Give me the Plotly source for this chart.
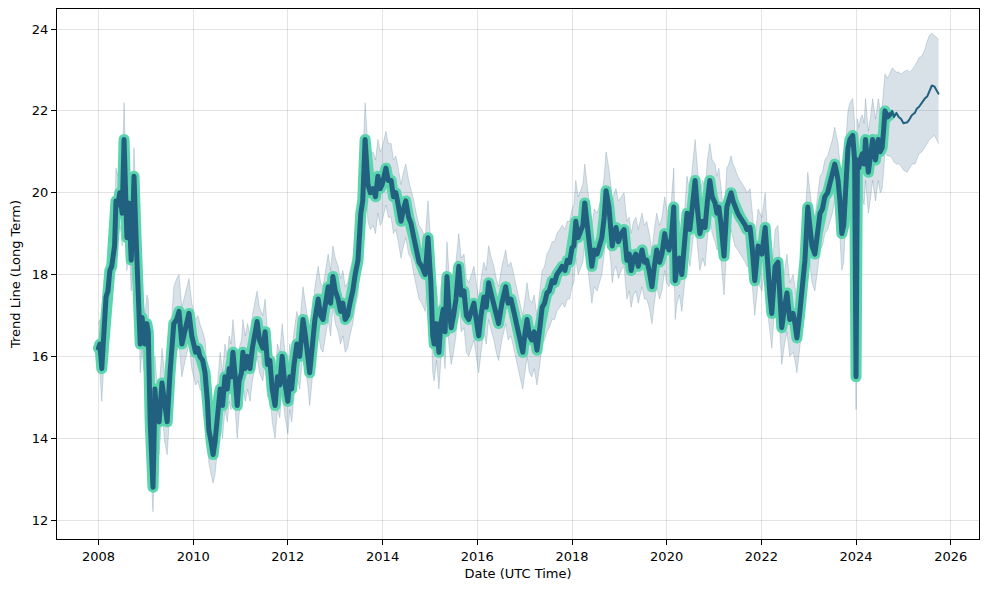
import datetime as dt
import plotly.graph_objects as go

# ---------------- data ----------------
# historical trend (decimal years), value, band upper, band lower
hist_years = [
    2008.00, 2008.03, 2008.07, 2008.12, 2008.16, 2008.20, 2008.24, 2008.28, 2008.31, 2008.34, 2008.37, 2008.41, 2008.45, 2008.48, 2008.50, 2008.54, 2008.57, 2008.60, 2008.64, 2008.69, 2008.72, 2008.75, 2008.79, 2008.83, 2008.86, 2008.88, 2008.92, 2008.95, 2008.98,
    2009.02, 2009.05, 2009.09, 2009.12, 2009.15, 2009.17, 2009.19, 2009.23, 2009.28, 2009.34, 2009.40, 2009.45, 2009.51, 2009.55, 2009.59, 2009.65, 2009.70, 2009.76, 2009.83, 2009.91, 2009.97,
    2010.05, 2010.10, 2010.14, 2010.20, 2010.25, 2010.30, 2010.33, 2010.38, 2010.42, 2010.46, 2010.50, 2010.54, 2010.57, 2010.62, 2010.67, 2010.72, 2010.76, 2010.80, 2010.84, 2010.88, 2010.93, 2010.97,
    2011.02, 2011.05, 2011.10, 2011.15, 2011.20, 2011.25, 2011.30, 2011.35, 2011.40, 2011.47, 2011.52, 2011.57, 2011.62, 2011.67, 2011.73, 2011.78, 2011.83, 2011.88, 2011.93,
    2012.00, 2012.04, 2012.08, 2012.13, 2012.19, 2012.25, 2012.32, 2012.37, 2012.42, 2012.46, 2012.52, 2012.57, 2012.64, 2012.69, 2012.74, 2012.80, 2012.85, 2012.90, 2012.95,
    2013.00, 2013.06, 2013.11, 2013.16, 2013.21, 2013.26, 2013.31, 2013.37, 2013.42, 2013.48, 2013.54, 2013.58, 2013.63, 2013.66, 2013.69, 2013.74, 2013.80, 2013.85, 2013.90, 2013.95, 2013.99,
    2014.03, 2014.07, 2014.12, 2014.18, 2014.23, 2014.28, 2014.33, 2014.39, 2014.44, 2014.49, 2014.55, 2014.60, 2014.66, 2014.71, 2014.77, 2014.83, 2014.90, 2014.96,
    2015.02, 2015.06, 2015.09, 2015.14, 2015.19, 2015.23, 2015.28, 2015.32, 2015.36, 2015.40, 2015.45, 2015.50, 2015.55, 2015.61, 2015.66, 2015.72, 2015.77, 2015.82, 2015.88, 2015.93, 2015.98,
    2016.03, 2016.08, 2016.14, 2016.19, 2016.24, 2016.30, 2016.35, 2016.40, 2016.45, 2016.52, 2016.60, 2016.65, 2016.71, 2016.77, 2016.82, 2016.88, 2016.96,
    2017.01, 2017.05, 2017.10, 2017.15, 2017.20, 2017.26, 2017.32, 2017.37, 2017.42, 2017.47, 2017.52, 2017.58, 2017.63, 2017.68, 2017.74, 2017.79, 2017.85, 2017.90, 2017.95,
    2018.00, 2018.04, 2018.08, 2018.13, 2018.19, 2018.23, 2018.27, 2018.31, 2018.36, 2018.42, 2018.47, 2018.53, 2018.58, 2018.63, 2018.68, 2018.72, 2018.78, 2018.82, 2018.85, 2018.89, 2018.93, 2018.98,
    2019.04, 2019.10, 2019.16, 2019.21, 2019.25, 2019.30, 2019.35, 2019.40, 2019.44, 2019.48, 2019.53, 2019.58, 2019.63, 2019.69, 2019.74, 2019.79, 2019.85, 2019.90, 2019.96,
    2020.00, 2020.05, 2020.10, 2020.15, 2020.18, 2020.22, 2020.27, 2020.32, 2020.38, 2020.43, 2020.49, 2020.55, 2020.60, 2020.65, 2020.70, 2020.76, 2020.81, 2020.86, 2020.91, 2020.96,
    2021.02, 2021.06, 2021.10, 2021.15, 2021.21, 2021.27, 2021.31, 2021.36, 2021.40, 2021.44, 2021.50, 2021.55, 2021.61, 2021.66, 2021.69, 2021.76, 2021.81, 2021.86, 2021.93,
    2022.01, 2022.08, 2022.11, 2022.14, 2022.18, 2022.22, 2022.25, 2022.29, 2022.35, 2022.39, 2022.43, 2022.49, 2022.54, 2022.60, 2022.67, 2022.71, 2022.75, 2022.81, 2022.86, 2022.92, 2022.98,
    2023.03, 2023.07, 2023.13, 2023.18, 2023.24, 2023.29, 2023.34, 2023.40, 2023.45, 2023.50, 2023.55, 2023.59, 2023.62, 2023.66, 2023.70, 2023.74, 2023.78, 2023.83, 2023.87, 2023.93, 2023.97,
    2024.00, 2024.03, 2024.06, 2024.09, 2024.13, 2024.17, 2024.20, 2024.26, 2024.31, 2024.35, 2024.41, 2024.47, 2024.51, 2024.55, 2024.58, 2024.61, 2024.66, 2024.71,
]
hist_trend = [
    16.2, 16.3, 15.7, 16.6, 17.45, 17.6, 18.1, 18.2, 18.6, 18.7, 19.8, 19.7, 20.0, 19.8, 19.5, 21.3, 20.1, 18.9, 19.75, 18.35, 19.2, 20.4, 19.0, 17.9, 17.5, 16.3, 16.95, 16.5, 16.3,
    16.8, 16.6, 14.4, 13.6, 12.8, 13.8, 15.2, 14.6, 14.4, 15.35, 14.7, 14.4, 15.6, 16.3, 16.8, 16.9, 17.1, 16.3, 16.7, 17.05, 16.5,
    16.1, 16.2, 16.0, 15.9, 15.6, 14.9, 14.2, 13.9, 13.6, 13.9, 14.4, 15.0, 15.2, 14.8, 15.5, 15.2, 15.7, 15.5, 16.1, 15.6, 14.8, 15.4,
    15.6, 16.1, 15.7, 16.0, 15.7, 16.2, 16.5, 16.85, 16.4, 16.2, 16.6, 15.8, 15.9, 15.2, 14.8, 15.5, 15.3, 16.0, 15.4,
    14.9, 15.5, 15.2, 15.8, 16.3, 16.0, 16.9, 16.5, 16.1, 15.6, 16.3, 16.9, 17.4, 17.0, 16.9, 17.3, 17.7, 17.3, 17.95,
    17.6, 17.4, 17.1, 17.3, 16.9, 17.0, 17.3, 17.6, 18.0, 18.35, 19.5, 19.8, 21.3, 20.6, 20.2, 20.0, 20.1, 19.9, 20.4, 20.1, 20.2,
    20.4, 20.6, 20.3, 20.3, 19.9, 20.0, 19.7, 19.3, 19.6, 19.8, 19.4, 19.25, 18.9, 18.6, 18.3, 18.2, 18.0, 18.9,
    17.8, 16.5, 16.3, 16.8, 16.1, 16.8, 17.15, 16.6, 17.95, 17.2, 16.7, 17.0, 17.4, 18.2, 17.5, 17.6, 17.0, 16.9, 17.1, 17.3, 16.9,
    16.5, 17.0, 17.45, 17.2, 17.8, 17.5, 17.3, 17.0, 16.8, 17.3, 17.7, 17.3, 17.4, 17.1, 16.8, 16.5, 16.1,
    16.6, 16.9, 16.5, 16.4, 16.6, 16.15, 16.7, 17.2, 17.3, 17.55, 17.6, 17.85, 17.8, 18.0, 18.1, 18.2, 18.1, 18.35, 18.3,
    18.65, 18.7, 19.3, 18.9, 19.1, 19.2, 19.75, 19.3, 18.85, 18.2, 18.6, 18.5, 18.7, 18.9, 19.4, 20.05, 19.65, 19.2, 18.7, 19.0, 19.15, 18.8,
    19.0, 19.1, 18.35, 18.5, 18.1, 18.4, 18.5, 18.2, 18.4, 18.6, 18.3, 18.35, 18.1, 17.7, 18.2, 18.6, 18.3, 18.5, 19.0,
    18.7, 18.6, 18.9, 19.65, 17.85, 18.2, 18.4, 18.0, 18.7, 19.5, 19.1, 19.7, 20.3, 19.6, 19.0, 19.3, 19.15, 19.8, 20.3, 19.9,
    19.75, 19.5, 19.65, 19.2, 18.45, 19.65, 19.8, 20.0, 19.8, 19.65, 19.5, 19.4, 19.3, 19.2, 19.1, 19.15, 18.6, 17.85, 18.7,
    18.5, 19.15, 18.6, 17.85, 17.5, 17.05, 17.6, 18.2, 18.3, 17.5, 16.7, 17.2, 17.55, 16.9, 17.05, 16.8, 16.45, 17.05, 17.6, 18.35, 19.65,
    19.1, 18.7, 18.5, 19.0, 19.5, 19.6, 19.9, 20.0, 20.2, 20.4, 20.7, 20.5, 20.3, 19.8, 19.0, 19.2, 20.3, 21.1, 21.3, 21.4, 20.8,
    15.5, 20.8, 20.6, 20.8, 20.95, 20.7, 21.3, 20.5, 20.9, 21.3, 20.8, 21.3, 21.0, 21.1, 21.5, 22.0, 21.85, 21.9,
]
hist_upper = [
    16.8, 16.9, 16.4, 17.3, 18.1, 18.4, 18.8, 18.9, 19.3, 19.5, 20.6, 20.4, 20.8, 20.6, 20.5, 22.2, 21.2, 19.8, 20.5, 19.2, 20.0, 21.1, 19.8, 18.7, 18.3, 17.1, 17.7, 17.3, 17.0,
    17.5, 17.4, 15.2, 14.4, 13.6, 14.6, 16.0, 15.4, 15.2, 16.2, 15.5, 15.3, 16.4, 17.1, 17.7, 17.9, 18.0, 17.2, 17.5, 17.9, 17.3,
    16.9, 17.0, 16.8, 16.6, 16.4, 15.6, 15.0, 14.6, 14.3, 14.6, 15.2, 15.8, 16.1, 15.6, 16.3, 16.0, 16.5, 16.3, 16.9, 16.4, 15.6, 16.2,
    16.4, 16.9, 16.5, 16.8, 16.5, 17.0, 17.3, 17.6, 17.2, 17.0, 17.4, 16.6, 16.7, 16.0, 15.6, 16.3, 16.1, 16.8, 16.2,
    15.7, 16.3, 16.0, 16.6, 17.1, 16.8, 17.7, 17.3, 16.9, 16.4, 17.1, 17.7, 18.2, 17.8, 17.7, 18.1, 18.5, 18.1, 18.7,
    18.4, 18.2, 17.9, 18.1, 17.7, 17.8, 18.1, 18.4, 18.8, 19.2, 20.3, 20.7, 22.2, 21.5, 21.1, 20.9, 21.0, 20.8, 21.3, 21.0, 21.1,
    21.3, 21.5, 21.2, 21.2, 20.8, 20.9, 20.6, 20.2, 20.5, 20.7, 20.3, 20.1, 19.8, 19.5, 19.2, 19.1, 18.9, 19.8,
    18.7, 17.4, 17.2, 17.7, 17.0, 17.7, 18.0, 17.5, 18.8, 18.1, 17.6, 17.9, 18.3, 19.0, 18.4, 18.5, 17.9, 17.8, 18.0, 18.2, 17.8,
    17.4, 17.9, 18.3, 18.1, 18.7, 18.4, 18.2, 17.9, 17.7, 18.2, 18.6, 18.2, 18.3, 18.0, 17.7, 17.4, 17.0,
    17.5, 17.8, 17.4, 17.3, 17.5, 17.0, 17.6, 18.1, 18.2, 18.5, 18.6, 18.8, 18.8, 19.0, 19.1, 19.2, 19.1, 19.3, 19.3,
    19.6, 19.7, 20.3, 19.9, 20.1, 20.2, 20.7, 20.3, 19.8, 19.2, 19.6, 19.5, 19.7, 19.9, 20.4, 21.0, 20.6, 20.2, 19.7, 20.0, 20.1, 19.8,
    19.9, 20.0, 19.3, 19.4, 19.0, 19.3, 19.4, 19.1, 19.3, 19.5, 19.2, 19.3, 19.0, 18.6, 19.1, 19.5, 19.2, 19.4, 19.9,
    19.6, 19.5, 19.8, 20.6, 18.8, 19.1, 19.3, 18.9, 19.6, 20.4, 20.0, 20.7, 21.3, 20.6, 20.0, 20.3, 20.1, 20.8, 21.2, 20.8,
    20.7, 20.4, 20.6, 20.1, 19.4, 20.6, 20.7, 20.9, 20.7, 20.6, 20.4, 20.3, 20.2, 20.1, 20.0, 20.1, 19.5, 18.8, 19.6,
    19.4, 20.0, 19.5, 18.8, 18.4, 18.0, 18.5, 19.1, 19.2, 18.4, 17.6, 18.1, 18.5, 17.8, 18.0, 17.7, 17.4, 18.0, 18.5, 19.3, 20.5,
    20.0, 19.6, 19.4, 19.9, 20.4, 20.5, 20.8, 20.9, 21.1, 21.3, 21.6, 21.4, 21.2, 20.7, 19.9, 20.1, 21.2, 22.0, 22.2, 22.3, 21.7,
    16.2, 21.8, 21.6, 21.8, 21.9, 21.7, 22.3, 21.5, 21.9, 22.3, 21.8, 22.3, 22.0, 22.1, 22.5, 22.9, 22.8, 22.9,
]
hist_lower = [
    15.6, 15.6, 14.9, 15.8, 16.8, 16.9, 17.4, 17.5, 17.9, 18.0, 19.0, 18.9, 19.2, 19.0, 18.7, 20.4, 19.2, 18.1, 18.9, 17.6, 18.4, 19.6, 18.2, 17.1, 16.7, 15.6, 16.2, 15.7, 15.6,
    16.1, 15.9, 13.6, 12.8, 12.2, 13.0, 14.4, 13.8, 13.6, 14.6, 13.9, 13.6, 14.8, 15.5, 16.0, 16.1, 16.3, 15.5, 15.9, 16.3, 15.7,
    15.3, 15.4, 15.2, 15.1, 14.8, 14.1, 13.4, 13.1, 12.9, 13.1, 13.6, 14.2, 14.4, 14.0, 14.7, 14.4, 14.9, 14.7, 15.3, 14.8, 14.0, 14.6,
    14.8, 15.3, 14.9, 15.2, 14.9, 15.4, 15.7, 16.0, 15.6, 15.4, 15.8, 15.0, 15.1, 14.4, 14.0, 14.7, 14.5, 15.2, 14.6,
    14.1, 14.7, 14.4, 15.0, 15.5, 15.2, 16.1, 15.7, 15.3, 14.8, 15.5, 16.1, 16.6, 16.2, 16.1, 16.5, 16.9, 16.5, 17.2,
    16.8, 16.6, 16.3, 16.5, 16.1, 16.2, 16.5, 16.8, 17.2, 17.5, 18.7, 19.0, 20.4, 19.7, 19.3, 19.1, 19.2, 19.0, 19.5, 19.2, 19.3,
    19.5, 19.7, 19.4, 19.4, 19.0, 19.1, 18.8, 18.4, 18.7, 18.9, 18.5, 18.4, 18.0, 17.7, 17.4, 17.3, 17.1, 18.0,
    16.9, 15.6, 15.4, 15.9, 15.2, 15.9, 16.3, 15.7, 17.1, 16.3, 15.8, 16.1, 16.5, 17.4, 16.6, 16.7, 16.1, 16.0, 16.2, 16.4, 16.0,
    15.6, 16.1, 16.6, 16.3, 16.9, 16.6, 16.4, 16.1, 15.9, 16.4, 16.8, 16.4, 16.5, 16.2, 15.9, 15.6, 15.2,
    15.7, 16.0, 15.6, 15.5, 15.7, 15.3, 15.8, 16.3, 16.4, 16.6, 16.7, 16.9, 16.9, 17.1, 17.2, 17.3, 17.2, 17.4, 17.4,
    17.7, 17.8, 18.4, 18.0, 18.2, 18.3, 18.8, 18.4, 17.9, 17.3, 17.7, 17.6, 17.8, 18.0, 18.5, 19.1, 18.7, 18.3, 17.8, 18.1, 18.2, 17.9,
    18.1, 18.2, 17.4, 17.6, 17.2, 17.5, 17.6, 17.3, 17.5, 17.7, 17.4, 17.4, 17.2, 16.8, 17.3, 17.7, 17.4, 17.6, 18.1,
    17.8, 17.7, 18.0, 18.7, 16.9, 17.3, 17.5, 17.1, 17.8, 18.6, 18.2, 18.8, 19.4, 18.7, 18.1, 18.4, 18.2, 18.9, 19.4, 19.0,
    18.8, 18.6, 18.7, 18.3, 17.5, 18.7, 18.9, 19.1, 18.9, 18.7, 18.6, 18.5, 18.4, 18.3, 18.2, 18.2, 17.7, 17.0, 17.8,
    17.6, 18.3, 17.7, 17.0, 16.6, 16.2, 16.7, 17.3, 17.4, 16.6, 15.8, 16.3, 16.6, 16.0, 16.1, 15.9, 15.6, 16.2, 16.7, 17.5, 18.8,
    18.2, 17.8, 17.6, 18.1, 18.6, 18.7, 19.0, 19.1, 19.3, 19.5, 19.8, 19.6, 19.4, 18.9, 18.1, 18.3, 19.4, 20.2, 20.4, 20.5, 19.9,
    14.7, 19.8, 19.6, 19.8, 19.9, 19.7, 20.3, 19.5, 19.9, 20.3, 19.8, 20.3, 20.0, 20.1, 20.5, 21.0, 20.9, 20.9,
]

# forecast part
fc_years = [2024.71, 2024.76, 2024.80, 2024.85, 2024.90, 2024.95, 2025.00, 2025.08, 2025.13, 2025.18, 2025.24,
            2025.28, 2025.33, 2025.39, 2025.45, 2025.50, 2025.55, 2025.60, 2025.65, 2025.70, 2025.74]
fc_trend = [21.9, 22.0, 21.85, 21.95, 21.85, 21.8, 21.7, 21.72, 21.8, 21.9, 21.95,
            22.05, 22.1, 22.2, 22.3, 22.35, 22.5, 22.62, 22.6, 22.48, 22.42]
fc_upper = [22.9, 23.05, 23.0, 22.95, 22.95, 22.9, 22.95, 23.0, 22.95, 23.0, 23.1,
            23.2, 23.3, 23.35, 23.5, 23.7, 23.85, 23.9, 23.85, 23.8, 23.75]
fc_lower = [20.9, 20.85, 20.75, 20.7, 20.7, 20.65, 20.55, 20.5, 20.6, 20.7, 20.7,
            20.8, 20.95, 21.0, 21.1, 21.2, 21.3, 21.35, 21.4, 21.3, 21.2]

y_ticks = [12, 14, 16, 18, 20, 22, 24]
x_tick_years = [2008, 2010, 2012, 2014, 2016, 2018, 2020, 2022, 2024, 2026]
x_title = "Date (UTC Time)"
y_title = "Trend Line (Long Term)"


def to_date(y):
    yr = int(y)
    start = dt.datetime(yr, 1, 1)
    end = dt.datetime(yr + 1, 1, 1)
    return start + (end - start) * (y - yr)


h_dates = [to_date(v) for v in hist_years]
f_dates = [to_date(v) for v in fc_years]
band_dates = h_dates + f_dates[1:]
band_upper = hist_upper + fc_upper[1:]
band_lower = hist_lower + fc_lower[1:]

DARK = "#21617f"
TURQ = "#5ad5ae"
BAND_LINE = "rgba(40,95,130,0.20)"
BAND_FILL = "rgba(40,95,130,0.19)"

fig = go.Figure()
fig.add_trace(go.Scatter(x=band_dates, y=band_lower, mode="lines",
                         line=dict(color=BAND_LINE, width=1), hoverinfo="skip", showlegend=False))
fig.add_trace(go.Scatter(x=band_dates, y=band_upper, mode="lines", fill="tonexty",
                         fillcolor=BAND_FILL,
                         line=dict(color=BAND_LINE, width=1), hoverinfo="skip", showlegend=False))
fig.add_trace(go.Scatter(x=h_dates, y=hist_trend, mode="lines",
                         line=dict(color=TURQ, width=11), showlegend=False))
fig.add_trace(go.Scatter(x=h_dates, y=hist_trend, mode="lines",
                         line=dict(color=DARK, width=5), showlegend=False))
fig.add_trace(go.Scatter(x=f_dates, y=fc_trend, mode="lines",
                         line=dict(color=DARK, width=2), showlegend=False))

font = dict(family="DejaVu Sans", size=13, color="black")
grid = "rgba(0,0,0,0.11)"
fig.update_layout(
    width=989, height=589,
    margin=dict(l=57, r=10, t=9, b=50),
    paper_bgcolor="white", plot_bgcolor="white",
    font=font,
    showlegend=False,
)
fig.update_xaxes(
    type="date",
    range=[to_date(2007.124), to_date(2026.596)],
    tickvals=[dt.datetime(y, 1, 1) for y in x_tick_years],
    ticktext=[str(y) for y in x_tick_years],
    showgrid=True, gridcolor=grid, gridwidth=1,
    showline=True, linecolor="black", linewidth=1, mirror=True,
    ticks="outside", ticklen=5, tickcolor="black",
    title=dict(text=x_title, standoff=6, font=font),
    zeroline=False, automargin=False,
)
fig.update_yaxes(
    range=[11.536, 24.49],
    tickvals=y_ticks,
    showgrid=True, gridcolor=grid, gridwidth=1,
    showline=True, linecolor="black", linewidth=1, mirror=True,
    ticks="outside", ticklen=5, tickcolor="black",
    title=dict(text=y_title, standoff=8, font=font),
    zeroline=False, automargin=False,
)

post = (
    "document.body.style.margin='0';"
    "document.body.style.overflow='hidden';"
    "var s=document.createElement('style');"
    "s.textContent='.scatterlayer path.js-line{stroke-linejoin:round;stroke-linecap:round;}';"
    "document.head.appendChild(s);"
)
fig.write_html("out.html", config={"displayModeBar": False}, post_script=post)
